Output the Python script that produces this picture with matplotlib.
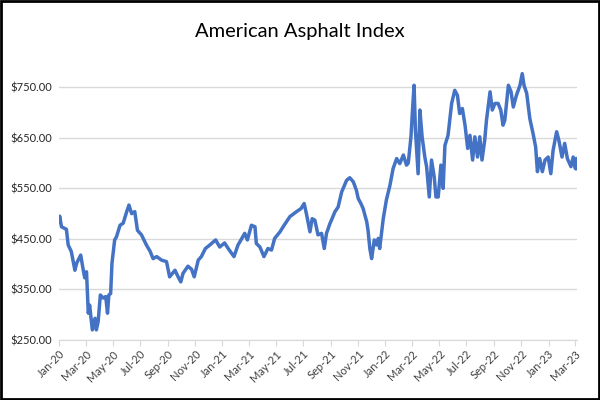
import matplotlib
matplotlib.use("Agg")
import matplotlib.pyplot as plt
import matplotlib.dates as mdates
from matplotlib.patches import Rectangle
import pandas as pd

plt.rcParams["font.family"] = ["Lato", "DejaVu Sans"]

title = "American Asphalt Index"

dates = [
    "2020-01-01", "2020-01-03", "2020-01-07", "2020-01-18", "2020-01-22", "2020-01-29",
    "2020-02-06", "2020-02-10", "2020-02-19", "2020-02-24", "2020-02-28", "2020-03-03",
    "2020-03-07", "2020-03-10", "2020-03-16", "2020-03-22", "2020-03-25", "2020-03-29",
    "2020-04-03", "2020-04-09", "2020-04-15", "2020-04-19", "2020-04-22", "2020-04-26",
    "2020-04-29", "2020-05-05", "2020-05-09", "2020-05-17", "2020-05-24", "2020-06-01",
    "2020-06-06", "2020-06-12", "2020-06-19", "2020-06-25", "2020-07-04", "2020-07-15",
    "2020-07-23", "2020-07-30", "2020-08-07", "2020-08-18", "2020-08-29", "2020-09-05",
    "2020-09-17", "2020-09-24", "2020-09-30", "2020-10-05", "2020-10-16", "2020-10-24",
    "2020-10-30", "2020-11-08", "2020-11-15", "2020-11-24", "2020-12-04", "2020-12-17",
    "2020-12-26", "2021-01-06", "2021-01-14", "2021-01-27", "2021-02-05", "2021-02-09",
    "2021-02-20", "2021-02-26", "2021-03-07", "2021-03-15", "2021-03-18", "2021-03-26",
    "2021-04-04", "2021-04-13", "2021-04-21", "2021-04-28", "2021-05-10", "2021-05-17",
    "2021-06-01", "2021-06-16", "2021-06-26", "2021-07-03", "2021-07-08", "2021-07-16",
    "2021-07-21", "2021-07-27", "2021-08-03", "2021-08-11", "2021-08-17", "2021-08-22",
    "2021-08-30", "2021-09-02", "2021-09-10", "2021-09-17", "2021-09-25", "2021-10-06",
    "2021-10-13", "2021-10-21", "2021-10-28", "2021-11-01", "2021-11-07", "2021-11-12",
    "2021-11-20", "2021-11-23", "2021-11-27", "2021-12-01", "2021-12-07", "2021-12-12",
    "2021-12-16", "2021-12-19", "2021-12-27", "2022-01-03", "2022-01-11", "2022-01-18",
    "2022-01-26", "2022-02-02", "2022-02-10", "2022-02-17", "2022-02-21", "2022-02-27",
    "2022-03-02", "2022-03-06", "2022-03-09", "2022-03-15", "2022-03-19", "2022-03-24",
    "2022-03-30", "2022-04-03", "2022-04-09", "2022-04-14", "2022-04-20", "2022-04-24",
    "2022-04-29", "2022-05-05", "2022-05-10", "2022-05-14", "2022-05-21", "2022-05-29",
    "2022-06-05", "2022-06-11", "2022-06-16", "2022-06-22", "2022-06-28", "2022-07-04",
    "2022-07-09", "2022-07-15", "2022-07-20", "2022-07-26", "2022-07-31", "2022-08-05",
    "2022-08-11", "2022-08-15", "2022-08-23", "2022-08-28", "2022-09-03", "2022-09-10",
    "2022-09-16", "2022-09-21", "2022-09-25", "2022-10-03", "2022-10-09", "2022-10-14",
    "2022-10-21", "2022-10-29", "2022-11-03", "2022-11-07", "2022-11-13", "2022-11-20",
    "2022-11-28", "2022-12-03", "2022-12-07", "2022-12-12", "2022-12-18", "2022-12-24",
    "2022-12-31", "2023-01-06", "2023-01-11", "2023-01-19", "2023-01-24", "2023-01-31",
    "2023-02-06", "2023-02-12", "2023-02-20", "2023-02-25", "2023-03-02", "2023-03-04",
    "2023-03-06",
]

prices = [
    484, 495, 474, 469, 438, 425,
    388, 402, 418, 392, 373, 385,
    303, 319, 270, 293, 270, 286,
    339, 333, 336, 303, 339, 342,
    402, 448, 454, 477, 481, 504,
    517, 500, 504, 467, 458, 438,
    426, 411, 415, 408, 405, 375,
    388, 375, 365, 382, 396, 390,
    375, 408, 415, 431, 438, 448,
    434, 442, 431, 415, 438, 444,
    461, 448, 477, 474, 441, 434,
    415, 431, 428, 451, 464, 474,
    494, 504, 510, 520, 500, 464,
    490, 487, 458, 461, 431, 461,
    481, 487, 504, 513, 543, 566,
    571, 563, 546, 530, 520, 510,
    484, 467, 431, 411, 448, 438,
    451, 431, 490, 527, 556, 589,
    609, 599, 616, 596, 600, 652,
    698, 754, 665, 579, 705, 652,
    612, 593, 533, 606, 573, 533,
    533, 596, 550, 635, 655, 718,
    744, 734, 698, 708, 675, 629,
    655, 606, 652, 612, 652, 606,
    645, 685, 741, 705, 718, 718,
    705, 675, 685, 754, 741, 711,
    734, 754, 777, 754, 738, 688,
    655, 632, 583, 609, 583, 606,
    612, 579, 625, 662, 645, 612,
    639, 609, 593, 612, 589, 609,
    589,
]

y_ticks = [250, 350, 450, 550, 650, 750]

x = pd.to_datetime(dates)

fig = plt.figure(figsize=(6, 4), dpi=100)
ax = fig.add_axes([0.098, 0.15, 0.864, 0.695])

ax.plot(x, prices, color="#4472C4", lw=2.5, solid_joinstyle="round")

ax.set_ylim(250, 800)
ax.set_yticks(y_ticks)
ax.set_yticklabels([f"${v:,.2f}" for v in y_ticks])
ax.set_xlim(pd.Timestamp("2020-01-01"), pd.Timestamp("2023-03-06"))
ax.xaxis.set_major_locator(mdates.MonthLocator(bymonth=[1, 3, 5, 7, 9, 11]))
ax.xaxis.set_major_formatter(mdates.DateFormatter("%b-%y"))

ax.grid(axis="y", color="#D9D9D9", lw=1)
ax.set_axisbelow(True)
for s in ["top", "right", "left"]:
    ax.spines[s].set_visible(False)
ax.spines["bottom"].set_color("#D9D9D9")
ax.tick_params(axis="y", length=0, labelsize=8, labelcolor="#262626", pad=5)
ax.tick_params(axis="x", length=4, color="#D9D9D9", labelsize=8, labelcolor="#404040", pad=2)
for lab in ax.get_xticklabels():
    lab.set_rotation(45)
    lab.set_ha("right")
    lab.set_rotation_mode("anchor")

fig.text(0.5, 0.92, title, ha="center", va="center", fontsize=14.5, color="#000000")

fig.patches.append(Rectangle((0.002, 0.003), 0.996, 0.994, transform=fig.transFigure,
                             fill=False, edgecolor="black", lw=2))

fig.savefig("out.png", dpi=100)
